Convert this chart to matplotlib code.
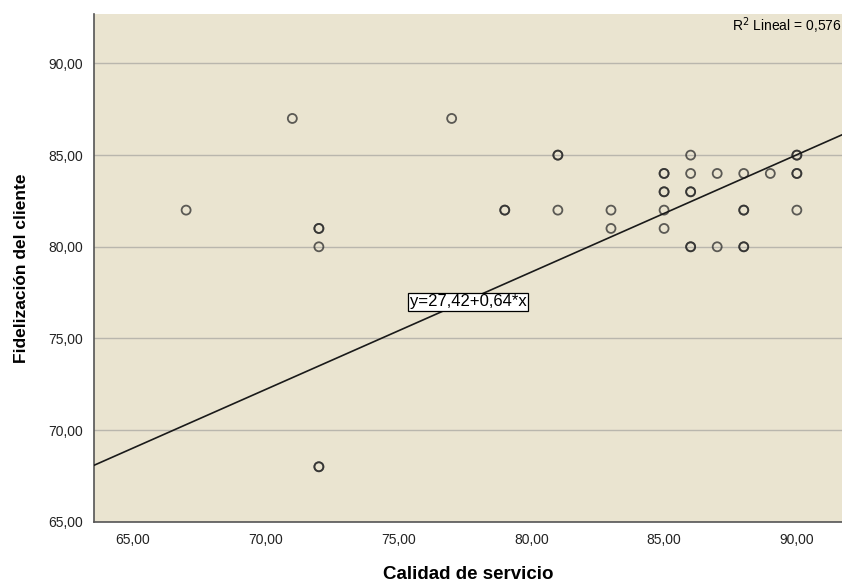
#!/usr/bin/env python3
"""Dispersión calidad de servicio vs fidelización del cliente (estilo SPSS)."""

import matplotlib.pyplot as plt
import numpy as np

# Puntos (los repetidos aparecen como círculos más gruesos)
calidad = [67, 71, 72, 72, 72, 72, 72, 77, 79, 79, 81, 81, 81,
           83, 83, 85, 85, 85, 85, 85, 85, 86, 86, 86, 86, 86, 86,
           87, 87, 88, 88, 88, 88, 88, 89, 90, 90, 90, 90, 90]
fidelizacion = [82, 87, 81, 81, 80, 68, 68, 87, 82, 82, 85, 85, 82,
                82, 81, 84, 84, 83, 83, 82, 81, 85, 84, 83, 83, 80, 80,
                84, 80, 84, 82, 82, 80, 80, 84, 85, 85, 84, 84, 82]

intercepto = 27.42
pendiente = 0.64
r2 = 0.576

x_ticks = [65, 70, 75, 80, 85, 90]
y_ticks = [65, 70, 75, 80, 85, 90]


def fmt(v):
    return f"{v:.2f}".replace(".", ",")


def main() -> None:
    plt.rcParams["font.family"] = ["Liberation Sans", "DejaVu Sans"]

    fig = plt.figure(figsize=(8.42, 5.82), dpi=100)
    ax = fig.add_axes([0.1116, 0.1035, 0.8884, 0.8725])
    ax.set_facecolor("#eae4d0")

    ax.set_xlim(63.53, 91.7)
    ax.set_ylim(65, 92.7)

    for yv in y_ticks:
        ax.axhline(yv, color="#b9b6ad", linewidth=1.0, zorder=1)

    ax.scatter(calidad, fidelizacion, s=42, facecolors="none",
               edgecolors="#2b2b2b", linewidths=1.3, alpha=0.75, zorder=3)

    xs = np.array(ax.get_xlim())
    ax.plot(xs, intercepto + pendiente * xs, color="#1a1a1a", linewidth=1.2, zorder=4)

    ax.text(75.42, 77.0, f"y={fmt(intercepto)}+{fmt(pendiente)}*x",
            fontsize=12, va="center", ha="left", zorder=5,
            bbox=dict(boxstyle="square,pad=0.1", facecolor="white", edgecolor="black", linewidth=0.9))

    ax.text(0.999, 0.997, f"R$^2$ Lineal = {r2:.3f}".replace(".", ","),
            transform=ax.transAxes, ha="right", va="top", fontsize=10)

    ax.set_xticks(x_ticks)
    ax.set_xticklabels([fmt(v) for v in x_ticks])
    ax.set_yticks(y_ticks)
    ax.set_yticklabels([fmt(v) for v in y_ticks])
    ax.tick_params(length=0, labelsize=10, colors="#222222", pad=8)

    for side in ("top", "right"):
        ax.spines[side].set_visible(False)
    for side in ("left", "bottom"):
        ax.spines[side].set_color("#555555")
        ax.spines[side].set_linewidth(1.2)

    ax.set_xlabel("Calidad de servicio", fontsize=13.5, fontweight="bold", labelpad=14)
    ax.set_ylabel("Fidelización del cliente", fontsize=12.5, fontweight="bold", labelpad=14)

    fig.savefig("out.png", dpi=100)
    plt.close(fig)


if __name__ == "__main__":
    main()
